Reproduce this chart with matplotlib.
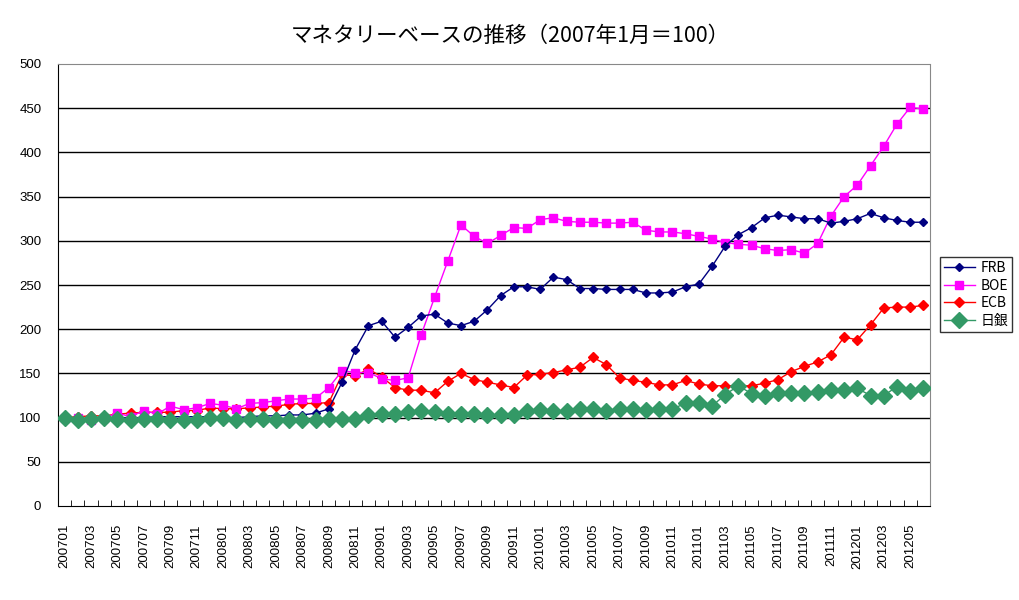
import numpy as np
import matplotlib
matplotlib.use("Agg")
import matplotlib.pyplot as plt

plt.rcParams['font.family'] = ['Noto Sans CJK JP', 'DejaVu Sans']

# 月次ラベル 200701 - 201206
months = [f"{y}{m:02d}" for y in range(2007, 2013) for m in range(1, 13)][:66]

frb = [100, 99, 99, 100, 100, 100, 100, 101, 101, 101, 101, 101, 100, 100, 101, 102,
       102, 103, 103, 105, 110, 140, 177, 204, 209, 191, 202, 215, 217, 207,
       204, 209, 222, 238, 248, 248, 245, 259, 256, 246, 246, 245, 245, 245,
       241, 241, 242, 248, 251, 271, 294, 307, 315, 326, 329, 327, 325, 325,
       320, 322, 325, 331, 326, 323, 321, 321]
boe = [100, 99, 97, 100, 105, 101, 108, 104, 113, 109, 111, 116, 114, 110, 116, 117,
       119, 121, 121, 122, 134, 153, 151, 151, 144, 142, 145, 194, 236, 277,
       318, 305, 297, 306, 315, 314, 324, 326, 322, 321, 321, 320, 320, 321,
       312, 310, 310, 308, 305, 302, 298, 296, 295, 291, 289, 290, 286, 297,
       328, 350, 363, 385, 407, 432, 451, 449]
ecb = [100, 101, 102, 102, 104, 105, 106, 106, 106, 108, 108, 111, 110, 110, 111, 112,
       113, 115, 116, 116, 117, 149, 147, 155, 146, 134, 131, 131, 128, 141,
       150, 143, 140, 137, 134, 148, 149, 151, 154, 157, 168, 160, 145, 142,
       140, 137, 137, 142, 138, 136, 136, 136, 136, 139, 143, 152, 158, 163,
       171, 191, 188, 205, 224, 225, 225, 227]
boj = [99, 97, 98, 100, 98, 97, 98, 98, 97, 97, 97, 100, 99, 97, 98, 98,
       97, 97, 97, 97, 98, 98, 98, 103, 104, 104, 106, 107, 106, 104,
       104, 104, 103, 103, 103, 108, 109, 107, 108, 110, 110, 108, 110, 110,
       109, 110, 110, 116, 116, 113, 126, 136, 127, 125, 128, 128, 128, 129,
       131, 131, 133, 125, 125, 135, 130, 133]

fig = plt.figure(figsize=(10.2, 6), dpi=100)
ax = fig.add_axes([58 / 1020, 94 / 600, 872 / 1020, 442 / 600])

x = np.arange(len(months))
ax.plot(x, frb, color='#000080', marker='D', markersize=4.5, lw=1, label='FRB', zorder=5)
ax.plot(x, boe, color='#FF00FF', marker='s', markersize=6, lw=1, label='BOE', zorder=4)
ax.plot(x, ecb, color='#FF0000', marker='D', markersize=5, lw=1, label='ECB', zorder=3)
ax.plot(x, boj, color='#339966', marker='D', markersize=8, lw=1, label='日銀', zorder=6)

ax.set_xlim(-0.5, len(months) - 0.5)
ax.set_ylim(0, 500)
ax.set_yticks(range(0, 501, 50))
for v in range(50, 500, 50):
    ax.axhline(v, color='black', lw=1, zorder=1)

ax.set_xticks(x[::2])
ax.set_xticklabels(months[::2], rotation=90, fontsize=9.5, family=['Liberation Sans', 'DejaVu Sans'])
ax.set_xticks(np.arange(-0.5, len(months), 1), minor=True)
ax.tick_params(axis='x', which='major', length=0, pad=13)
ax.tick_params(axis='x', which='minor', direction='in', length=4, color='black')
ax.tick_params(axis='y', direction='in', length=0, labelsize=9.5, pad=12)
for lbl in ax.get_yticklabels():
    lbl.set_family(['Liberation Sans', 'DejaVu Sans'])

for side in ['top', 'right']:
    ax.spines[side].set_color('#888888')
    ax.spines[side].set_linestyle((0, (1, 1)))
ax.spines['left'].set_color('black')
ax.spines['bottom'].set_color('black')

fig.text(0.5, 1 - 36 / 600, 'マネタリーベースの推移（2007年1月＝100）',
         ha='center', va='center', fontsize=15.5)

leg = fig.legend(loc='upper left', bbox_to_anchor=(940 / 1020, 1 - 257 / 600),
                 fontsize=10, frameon=True, fancybox=False, edgecolor='black',
                 handlelength=2.2, borderpad=0.3, labelspacing=0.25,
                 handletextpad=0.4, borderaxespad=0)
leg.get_frame().set_linewidth(1)

fig.savefig('out.png', dpi=100)
